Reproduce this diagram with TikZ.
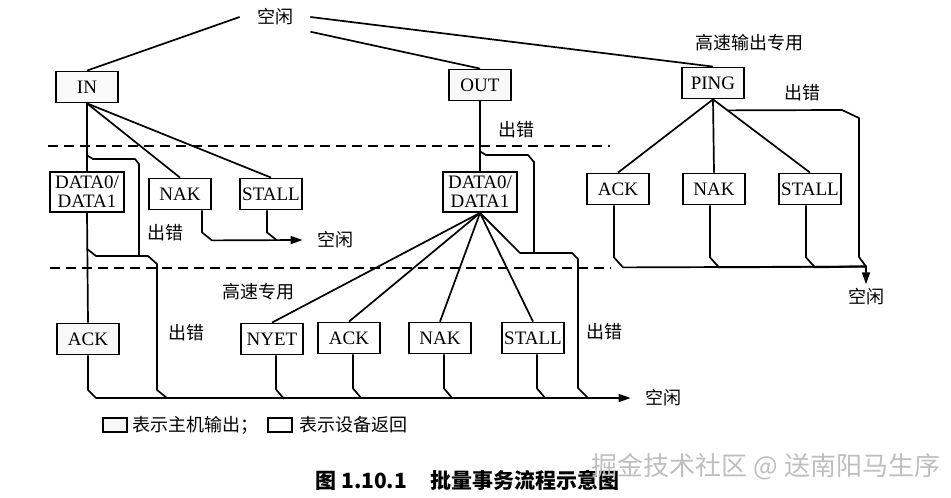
\documentclass[tikz,border=0pt]{standalone}
\usepackage{fontspec}
\setmainfont{Liberation Serif}
\newfontfamily\cjk{Noto Sans CJK SC}
\usetikzlibrary{arrows.meta,calc}
\tikzset{
  pkt/.style={draw=black,line width=0.9pt,minimum width=31pt,minimum height=15.5pt,
    inner sep=1pt,font=\fontsize{9.5}{9.6}\selectfont,align=center},
  hostpkt/.style={pkt,fill=gray!5},
  datapkt/.style={minimum width=37pt,minimum height=20pt},
  flow/.style={line width=0.85pt,line join=round},
  idleflow/.style={flow,-{Triangle[length=6pt,width=4pt]}},
  stage/.style={line width=0.7pt,dash pattern=on 5pt off 3pt},
  note/.style={font=\cjk\fontsize{9}{10}\selectfont,inner sep=1pt},
  idletag/.style={note,inner xsep=7pt,inner ysep=2pt}
}
\begin{document}
\begin{tikzpicture}[x=0.5pt,y=-0.5pt]
  \useasboundingbox[fill=white] (0,0) rectangle (951,497);
  % tokens
  \node[idletag,inner xsep=8.5pt,inner ysep=3pt] (idle) at (275,17) {空闲};
  \node[hostpkt] (in) at (87,87) {IN};
  \node[hostpkt] (out) at (480,85) {OUT};
  \node[hostpkt] (ping) at (713,83) {PING};
  \node[note] (hsOut) at (749,43) {高速输出专用};
  % IN transaction
  \node[pkt,datapkt] (inData) at (87,192) {DATA0/\\DATA1};
  \node[pkt] (inNak) at (180,194) {NAK};
  \node[pkt] (inStall) at (271,194) {STALL};
  \node[hostpkt] (inAck) at (88,339) {ACK};
  \node[idletag] (idleIn) at (335,240) {空闲};
  \node[note] (errIn) at (165,233) {出错};
  \node[note] (errInData) at (186,333) {出错};
  % OUT transaction
  \node[hostpkt,datapkt] (outData) at (480,192) {DATA0/\\DATA1};
  \node[pkt] (outNyet) at (272,339) {NYET};
  \node[pkt] (outAck) at (349,338) {ACK};
  \node[pkt] (outNak) at (440,338) {NAK};
  \node[pkt] (outStall) at (533,338) {STALL};
  \node[note] (hsData) at (258,292) {高速专用};
  \node[note] (errOut) at (516,130) {出错};
  \node[note] (errOutData) at (604,332) {出错};
  \node[idletag] (idleBus) at (663,398) {空闲};
  % PING transaction
  \node[pkt] (pingAck) at (618,189) {ACK};
  \node[pkt] (pingNak) at (714,189) {NAK};
  \node[pkt] (pingStall) at (810,189) {STALL};
  \node[note] (errPing) at (802,93) {出错};
  \node[idletag] (idlePing) at (866,297) {空闲};
  % phase separators
  \draw[stage] (48,146) -- (610,146);
  \draw[stage] (50,268) -- (611,268);
  % from idle
  \draw[flow] (idle.west) -- (in.north);
  \draw[flow] (idle.south east) -- (out.north);
  \draw[flow] (idle.east) -- (ping.north);
  % IN paths
  \draw[flow] (in.south) -- (inData.north);
  \draw[flow] (in.south) -- (inNak.north);
  \draw[flow] (in.south) -- (inStall.north);
  \draw[flow] (inData.south) -- (inAck.north);
  \draw[flow] ($(in.south)+(0,52)$) -- (93,159) -- (135,159) -- (139,164) -- (139,256);
  \draw[flow] ($(inData.south)+(0,36)$) -- (96,256) -- (148,256) -- (157,264)
    -- (157,390) -- (167,398);
  \draw[idleflow] ([xshift=11pt]inNak.south) -- ++(0,22) -- ++(10,8) -- (idleIn.west);
  \draw[flow] ([xshift=-2pt]inStall.south) -- ++(0,22) -- ++(10,8);
  \draw[idleflow] (inAck.south) -- (88,390) -- (96,398) -- (idleBus.west);
  % OUT paths
  \draw[flow] (out.south) -- (outData.north);
  \draw[flow] ($(out.south)+(0,50)$) -- (486,155) -- (528,155) -- (534,162) -- (534,253);
  \foreach \p in {outNyet,outAck,outNak,outStall}
    \draw[flow] (outData.south) -- (\p.north);
  \draw[flow] (outData.south) -- (520,253) -- (572,253) -- (578,259) -- (578,388) -- (588,398);
  \foreach \p in {outNyet,outAck,outNak,outStall}
    \draw[flow] ([xshift=2pt]\p.south) -- ++(0,34) -- ++(8,9.5);
  % PING paths
  \foreach \p in {pingAck,pingNak,pingStall}
    \draw[flow] (ping.south) -- (\p.north);
  \foreach \p in {pingAck,pingNak,pingStall}
    \draw[flow] ([xshift=-2pt]\p.south) -- ++(0,52) -- ++(9,10) -- (866,266.5);
  \draw[idleflow] ($(ping.south)!0.15!(pingStall.north)$) -- (842,110) -- (859,118)
    -- (859,257) -- (866,266.5) -- (idlePing.north);
  % legend
  \node[hostpkt,minimum width=12pt,minimum height=7pt,inner sep=0pt] (keyHost) at (115,425) {};
  \node[note,anchor=west] (keyHostTxt) at (130,425) {表示主机输出；};
  \node[pkt,minimum width=12pt,minimum height=7pt,inner sep=0pt] (keyDev) at (280,425) {};
  \node[note,anchor=west] (keyDevTxt) at (297,425) {表示设备返回};
  % caption
  \node[anchor=west,inner sep=0pt,font=\cjk\bfseries\fontsize{10.5}{12}\selectfont]
    (caption) at (315,480) {图 1.10.1\hspace{1.1em}批量事务流程示意图};
  \node[font=\cjk\fontsize{13}{15}\selectfont,text=gray!50] (mark) at (766,467)
    {掘金技术社区 @ 送南阳马生序};
\end{tikzpicture}
\end{document}
